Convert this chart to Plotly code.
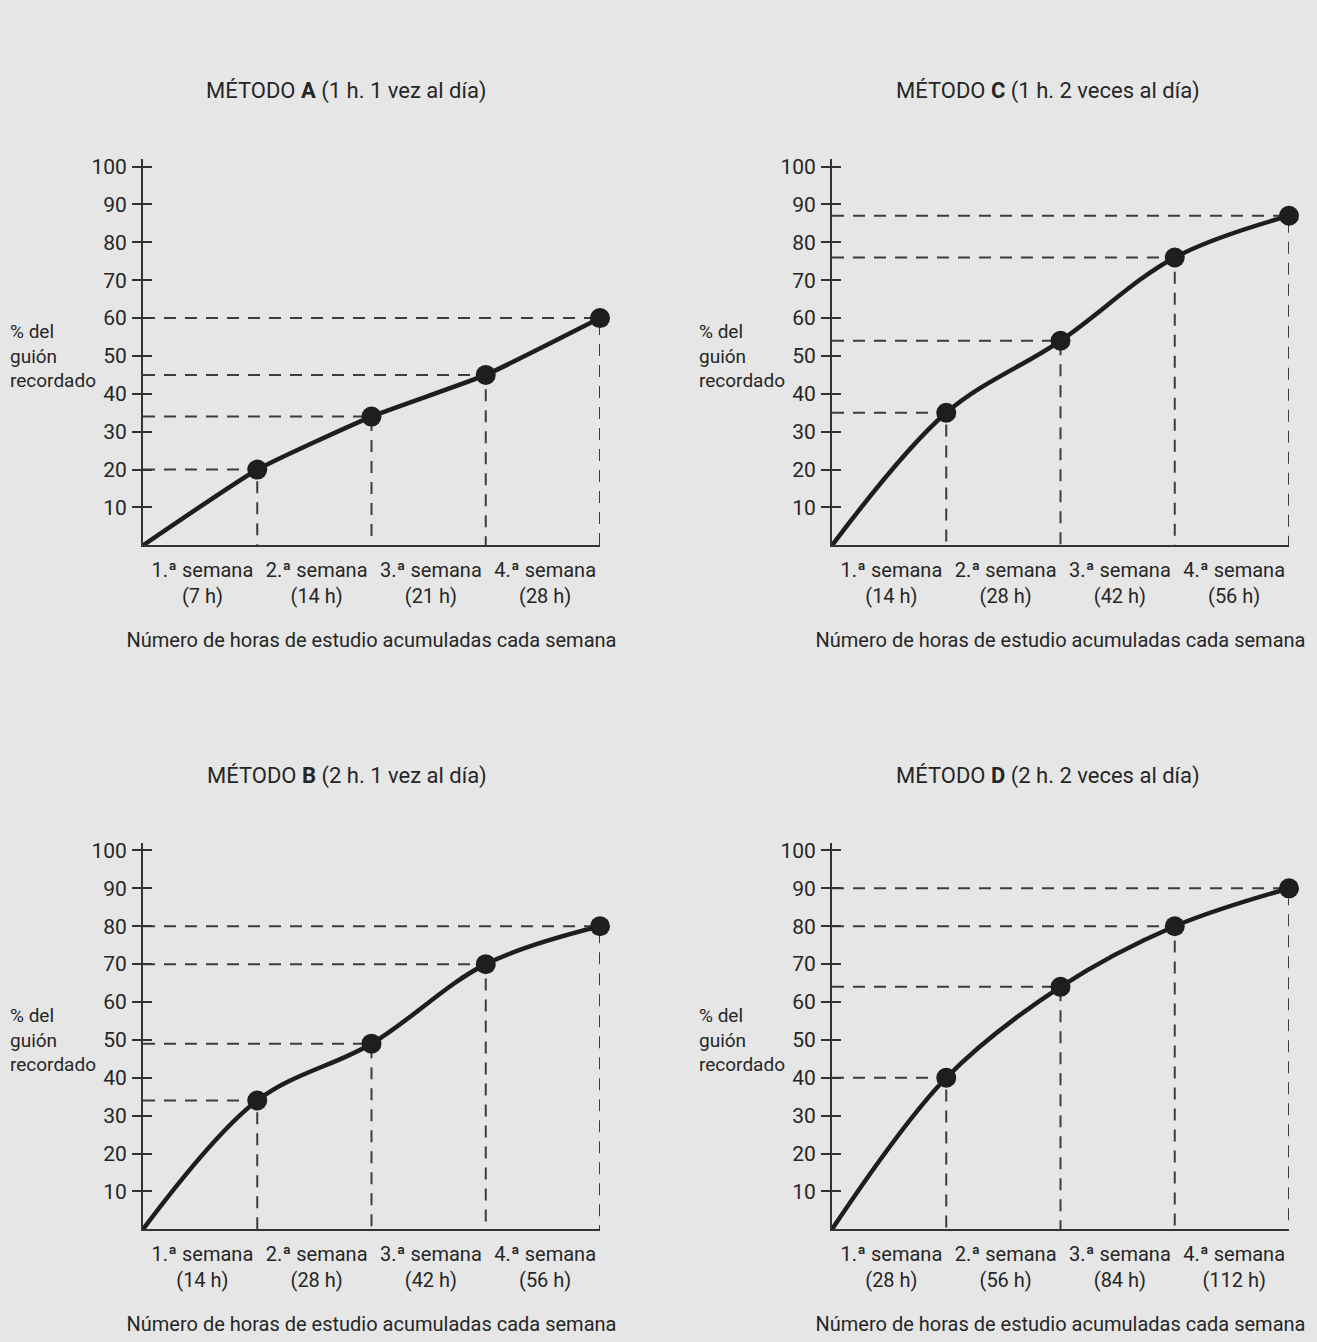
import plotly.graph_objects as go

# ---------------- data ----------------
weeks = ["1.ª semana", "2.ª semana", "3.ª semana", "4.ª semana"]
hours_A = [7, 14, 21, 28]
hours_B = [14, 28, 42, 56]
hours_C = [14, 28, 42, 56]
hours_D = [28, 56, 84, 112]
recall_A = [20, 34, 45, 60]
recall_B = [34, 49, 70, 80]
recall_C = [35, 54, 76, 87]
recall_D = [40, 64, 80, 90]
titles = {
    "A": "MÉTODO <b>A</b> (1 h. 1 vez al día)",
    "B": "MÉTODO <b>B</b> (2 h. 1 vez al día)",
    "C": "MÉTODO <b>C</b> (1 h. 2 veces al día)",
    "D": "MÉTODO <b>D</b> (2 h. 2 veces al día)",
}
y_ticks = [10, 20, 30, 40, 50, 60, 70, 80, 90, 100]
x_title = "Número de horas de estudio acumuladas cada semana"
y_title = "% del<br>guión<br>recordado"

# ---------------- layout helpers ----------------
W, H = 1317, 1342
FONT = "Roboto, Liberation Sans, sans-serif"
TXT = "#262626"
LINE = "#1e1e1e"
DASH = "#3c3c3c"
BG = "#e6e6e6"


def px_x(p):
    return p / W


def px_y(p):
    return 1 - p / H


YMAX = 102
panels = [
    # key, hours, recall, axis idx, x0px, x1px, baseline px, title x center px, title y px
    ("A", hours_A, recall_A, 1, 143, 600, 543, 347, 87),
    ("C", hours_C, recall_C, 2, 832, 1289, 543, 1048, 87),
    ("B", hours_B, recall_B, 3, 143, 600, 1229, 347, 774),
    ("D", hours_D, recall_D, 4, 832, 1289, 1229, 1048, 774),
]

fig = go.Figure()
layout = dict(
    width=W, height=H,
    paper_bgcolor=BG, plot_bgcolor="rgba(0,0,0,0)",
    margin=dict(l=0, r=0, t=0, b=0),
    showlegend=False,
    font=dict(family=FONT, size=20, color=TXT),
    annotations=[],
)

for key, hrs, rec, i, x0, x1, base, tx, ty in panels:
    xa = "x" if i == 1 else f"x{i}"
    ya = "y" if i == 1 else f"y{i}"
    ov = f"y{i + 4}"
    top_px = base - 3.8 * YMAX
    xs = [0, 1, 2, 3, 4]
    ys = [0] + rec

    # dashed guides from the data points
    for k, v in enumerate(rec, start=1):
        fig.add_trace(go.Scatter(
            x=[0, k, k], y=[v, v, 0], mode="lines", xaxis=xa, yaxis=ya,
            line=dict(color=DASH, width=2, dash="12px,9px"),
            hoverinfo="skip", cliponaxis=False))
    # curve
    fig.add_trace(go.Scatter(
        x=xs, y=ys, mode="lines", xaxis=xa, yaxis=ya,
        line=dict(color=LINE, width=4.5, shape="spline",
                  smoothing=0.45 if key == "A" else 1.0),
        cliponaxis=False))
    # markers
    fig.add_trace(go.Scatter(
        x=xs[1:], y=rec, mode="markers", xaxis=xa, yaxis=ya,
        marker=dict(color=LINE, size=20), cliponaxis=False))
    # invisible trace for the overlay tick axis
    fig.add_trace(go.Scatter(x=[None], y=[None], xaxis=xa, yaxis=ov,
                             showlegend=False, hoverinfo="skip"))

    ticktext = [f"{w}<br>({h} h)" for w, h in zip(weeks, hrs)]
    layout["xaxis" if i == 1 else f"xaxis{i}"] = dict(
        domain=[px_x(x0), px_x(x1)], anchor=ya, range=[0, 4],
        showgrid=False, zeroline=False, showline=True,
        linecolor="#333333", linewidth=2,
        tickmode="array", tickvals=[0.52, 1.52, 2.52, 3.52], ticktext=ticktext,
        ticks="", ticklabelstandoff=6,
        tickfont=dict(family=FONT, size=20, color=TXT),
        title=dict(text=x_title, standoff=26,
                   font=dict(family=FONT, size=20, color=TXT)),
    )
    ydict = dict(
        domain=[px_y(base), px_y(top_px)], anchor=xa, range=[0, YMAX],
        showgrid=False, zeroline=False, showline=True,
        linecolor="#333333", linewidth=2,
        tickmode="array", tickvals=y_ticks,
        ticks="outside", ticklen=9, tickwidth=2, tickcolor="#333333",
        tickfont=dict(family=FONT, size=21, color=TXT),
        ticklabelstandoff=1,
    )
    layout["yaxis" if i == 1 else f"yaxis{i}"] = ydict
    layout[f"yaxis{i + 4}"] = dict(
        overlaying=ya, matches=ya, anchor=xa, side="left",
        showgrid=False, zeroline=False, showline=False,
        tickmode="array", tickvals=y_ticks, showticklabels=False,
        ticks="inside", ticklen=9, tickwidth=2, tickcolor="#333333",
    )
    # panel title
    layout["annotations"].append(dict(
        text=titles[key], x=px_x(tx), y=px_y(ty), xref="paper", yref="paper",
        xanchor="center", yanchor="middle", showarrow=False,
        font=dict(family=FONT, size=22, color=TXT)))
    # y-axis title
    layout["annotations"].append(dict(
        text=y_title, x=px_x(x0 - 135), y=50, xref="paper", yref=ya,
        xanchor="left", yanchor="middle", align="left", showarrow=False,
        font=dict(family=FONT, size=19, color=TXT)))

fig.update_layout(**layout)
fig.write_html(
    "out.html",
    config={"displayModeBar": False},
    post_script="document.body.style.margin='0';"
                "document.body.style.background='" + BG + "';",
)
